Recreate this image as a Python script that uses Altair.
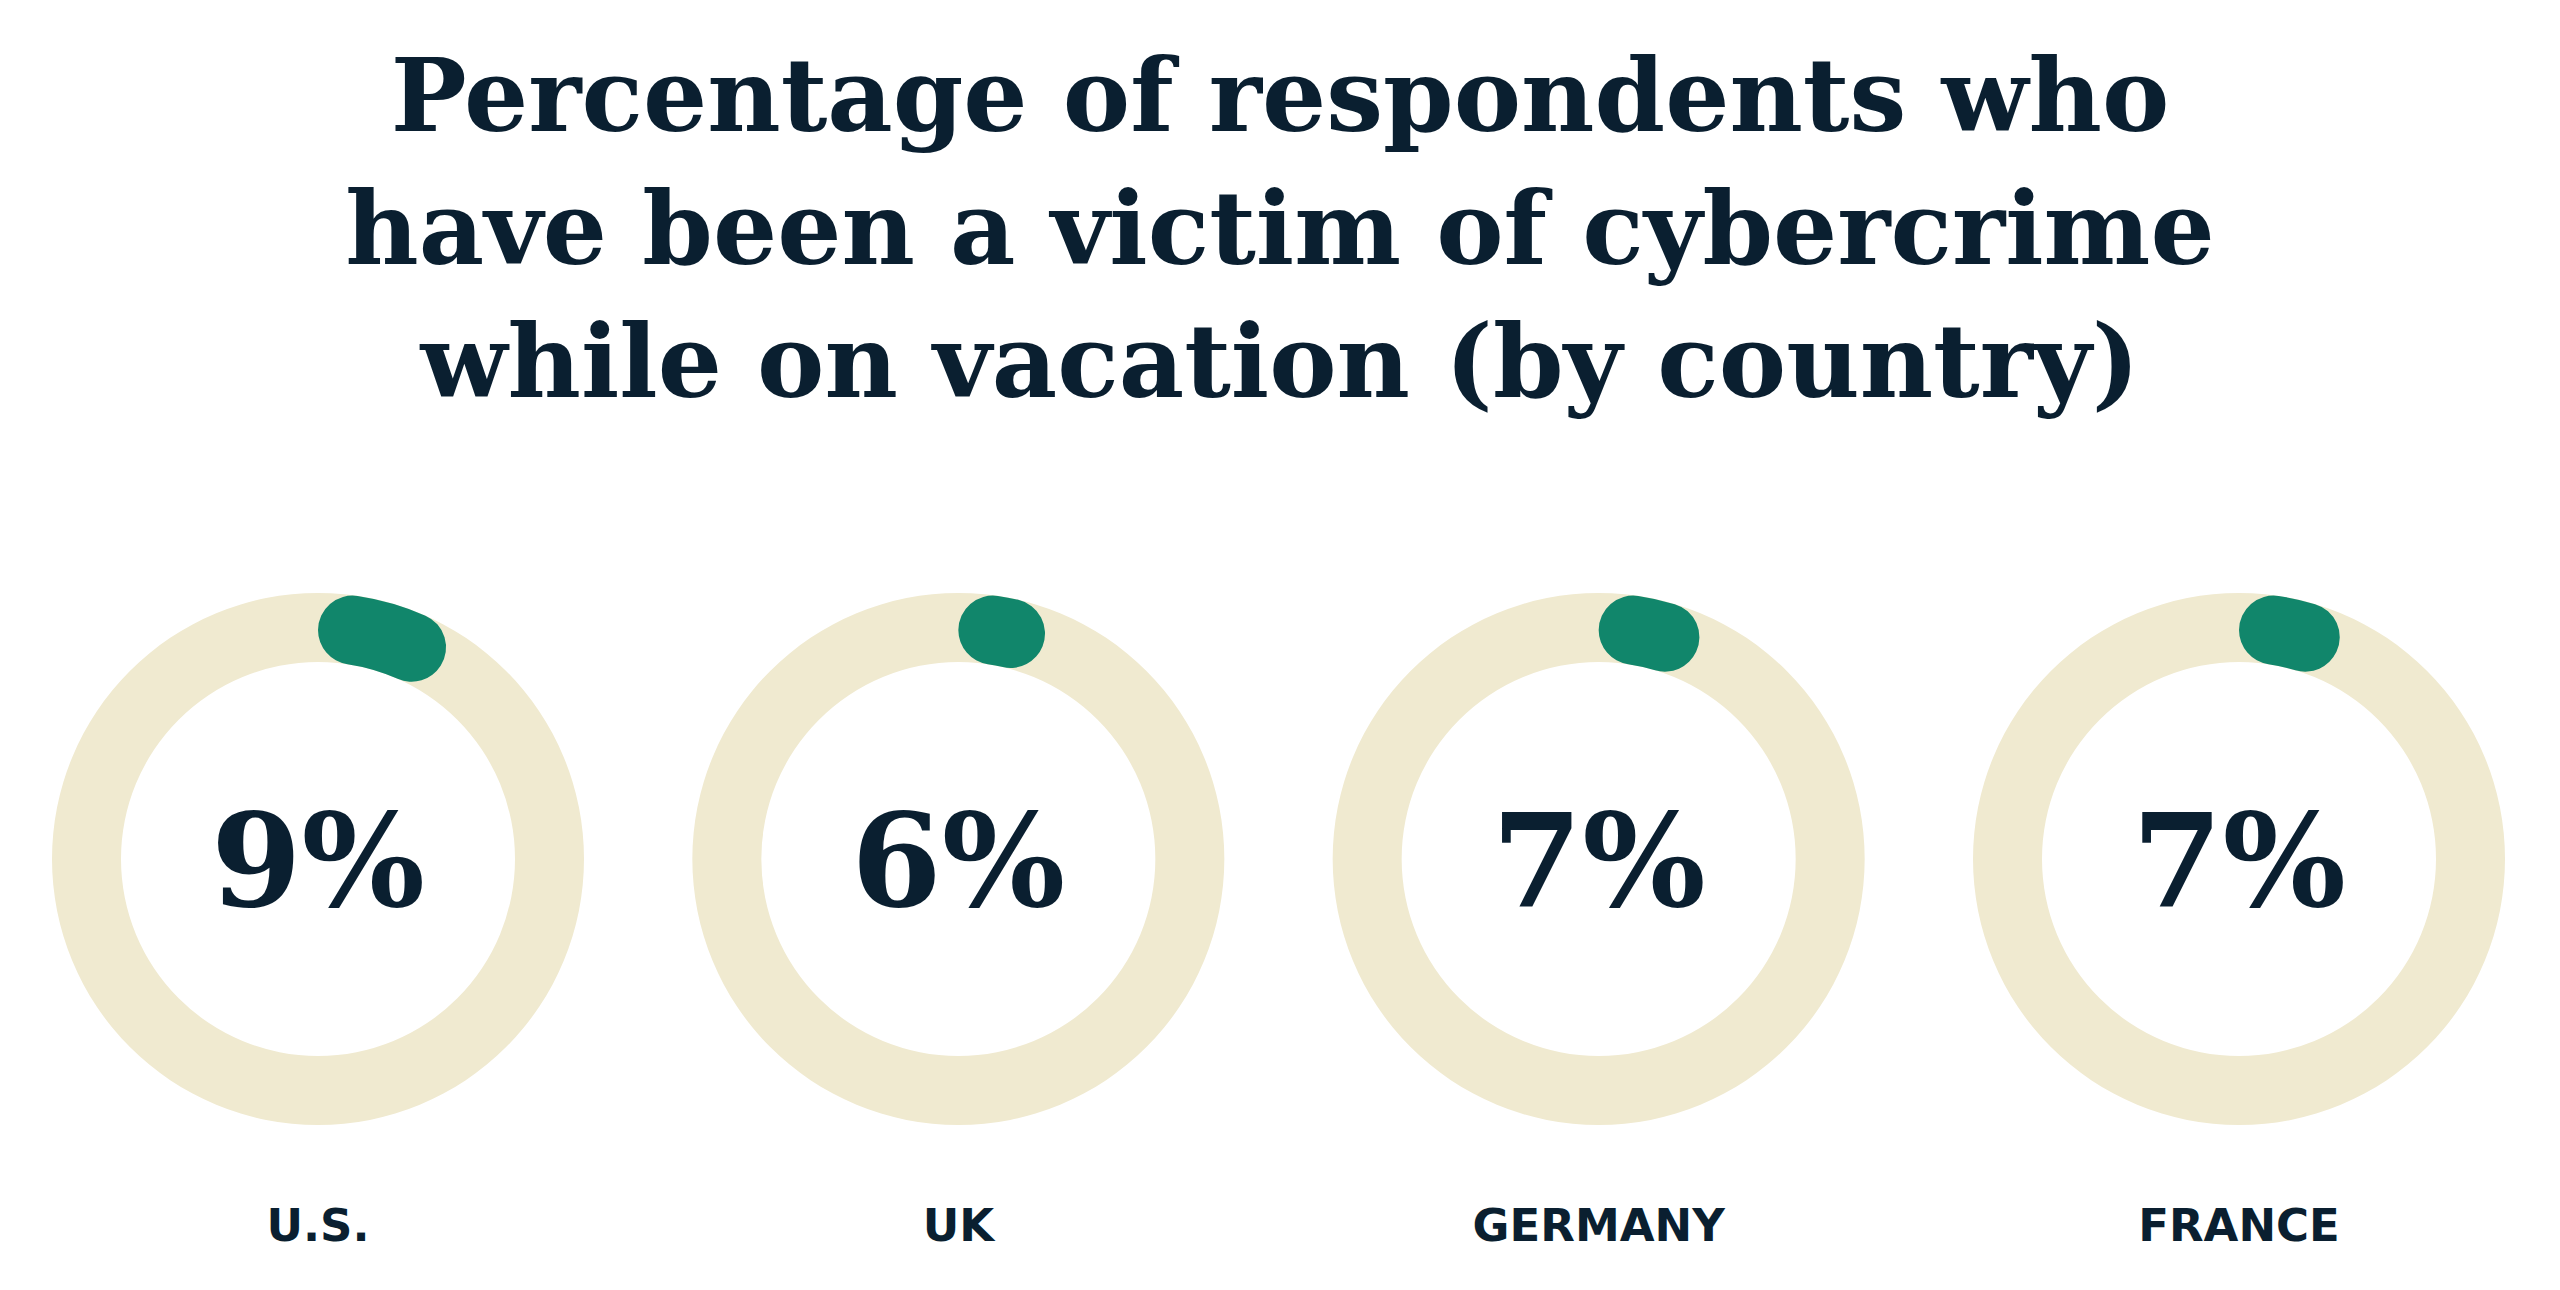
import math
import altair as alt
import pandas as pd

# ---- data ----
countries = ["U.S.", "UK", "GERMANY", "FRANCE"]
values = [9, 6, 7, 7]
value_labels = ["9%", "6%", "7%", "7%"]
title_lines = [
    "Percentage of respondents who",
    "have been a victim of cybercrime",
    "while on vacation (by country)",
]

df = pd.DataFrame({"country": countries, "value": values, "label": value_labels})
title_df = pd.DataFrame({"k": [0]})

NAVY = "#0A1F30"
GREEN = "#11866B"
BEIGE = "#F0EAD0"
TAU = 2 * math.pi

R_OUT = 266
R_IN = 197
CY = 851

xenc = alt.X(
    "country:N",
    sort=countries,
    scale=alt.Scale(type="point", domain=countries, range=[310, 2231], padding=0),
    axis=None,
)
theta_scale = alt.Scale(domain=[0, 100], range=[0, TAU])

base = alt.Chart(df).transform_calculate(start="0", full="100")

ring = base.mark_arc(radius=R_OUT, radius2=R_IN, color=BEIGE).encode(
    x=xenc,
    y=alt.value(CY),
    theta=alt.Theta("start:Q", scale=theta_scale, stack=None),
    theta2=alt.Theta2("full:Q"),
)

progress = base.mark_arc(
    radius=R_OUT, radius2=R_IN, cornerRadius=(R_OUT - R_IN) / 2, color=GREEN
).encode(
    x=xenc,
    y=alt.value(CY),
    theta=alt.Theta("start:Q", scale=theta_scale, stack=None),
    theta2=alt.Theta2("value:Q"),
)

center_text = base.mark_text(
    font="DejaVu Serif", fontWeight="bold", fontSize=130, color=NAVY,
    align="center", baseline="alphabetic",
).encode(x=xenc, y=alt.value(CY + 47), text="label:N")

country_text = base.mark_text(
    font="DejaVu Sans", fontWeight="bold", fontSize=45, color=NAVY,
    align="center", baseline="alphabetic",
).encode(x=xenc, y=alt.value(1233), text="country:N")

title = alt.Chart(title_df).mark_text(
    text=title_lines, font="DejaVu Serif", fontWeight="bold", fontSize=101,
    lineHeight=133, color=NAVY, align="center", baseline="alphabetic",
).encode(x=alt.value(1272), y=alt.value(123))

chart = alt.layer(ring, progress, center_text, country_text, title).properties(
    width=2544, height=1274, padding=0, autosize="none", background="white"
).configure_view(stroke=None)

chart.save("out.html", embed_options={"renderer": "svg", "actions": False})
